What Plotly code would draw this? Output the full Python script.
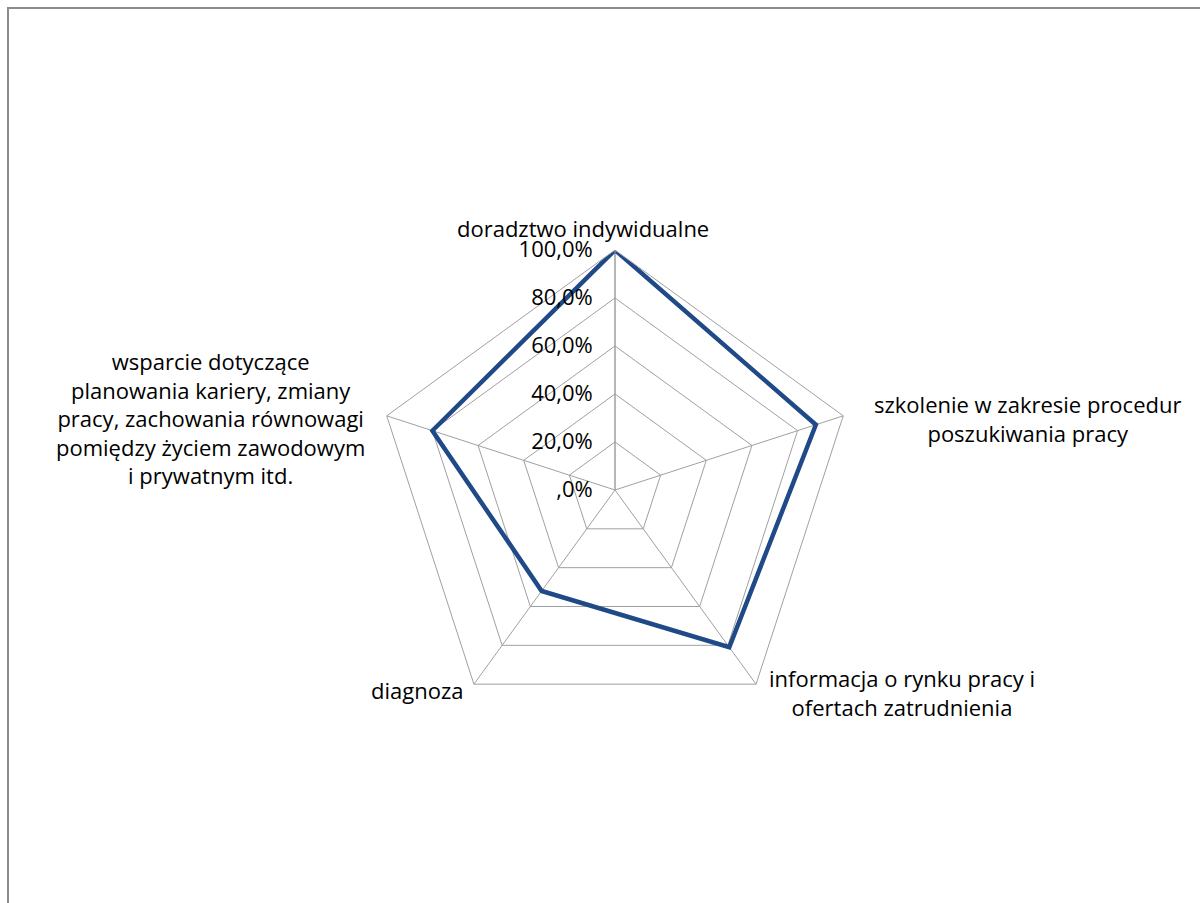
import plotly.graph_objects as go

categories = [
    "doradztwo indywidualne",
    "szkolenie w zakresie procedur<br>poszukiwania pracy",
    "informacja o rynku pracy i<br>ofertach zatrudnienia",
    "diagnoza",
    "wsparcie dotyczące<br>planowania kariery, zmiany<br>pracy, zachowania równowagi<br>pomiędzy życiem zawodowym<br>i prywatnym itd.",
]
values = [100.0, 88.0, 81.0, 52.0, 80.0]
tick_vals = [0, 20, 40, 60, 80, 100]
tick_text = [",0%", "20,0%", "40,0%", "60,0%", "80,0%", "100,0%"]

W, H = 1200, 903
cx, cy_top, R = 615, 490, 240
cy = H - cy_top

FONT = "Open Sans"
FS = 22
TXT = "#000000"

fig = go.Figure()
fig.add_trace(go.Scatterpolar(
    r=values + [values[0]],
    theta=categories + [categories[0]],
    mode="lines",
    line=dict(color="#1F4A87", width=4.5),
    hoverinfo="skip",
    showlegend=False,
))

fig.update_layout(
    width=W, height=H,
    margin=dict(l=0, r=0, t=0, b=0),
    paper_bgcolor="white",
    plot_bgcolor="white",
    font=dict(family=FONT, size=FS, color=TXT),
    polar=dict(
        domain=dict(x=[(cx - R) / W, (cx + R) / W], y=[(cy - R) / H, (cy + R) / H]),
        gridshape="linear",
        bgcolor="white",
        radialaxis=dict(
            range=[0, 100],
            tickvals=tick_vals,
            ticktext=tick_text,
            angle=90,
            tickangle=90,
            side="counterclockwise",
            showline=True,
            linecolor="#A0A0A0",
            linewidth=1,
            gridcolor="#A0A0A0",
            gridwidth=1,
            ticks="outside",
            ticklen=14,
            tickcolor="rgba(0,0,0,0)",
            tickfont=dict(family=FONT, size=FS, color=TXT),
        ),
        angularaxis=dict(
            direction="clockwise",
            rotation=90,
            showticklabels=False,
            ticks="",
            showline=True,
            linecolor="#A0A0A0",
            linewidth=1,
            gridcolor="#A0A0A0",
            gridwidth=1,
        ),
    ),
)

# category labels positioned as in the reference
label_pos = [
    (583, 228, "center"),
    (1027, 418, "center"),
    (902, 692, "center"),
    (465, 690, "right"),
    (210, 418, "center"),
]
for cat, (x, y, al) in zip(categories, label_pos):
    fig.add_annotation(
        x=x / W,
        y=1 - y / H,
        xref="paper", yref="paper",
        text=cat,
        showarrow=False,
        xanchor="center" if al == "center" else "right",
        yanchor="middle",
        align="center",
        font=dict(family=FONT, size=FS, color=TXT),
    )

# chart frame
fig.add_shape(
    type="rect", xref="paper", yref="paper",
    x0=8 / W, x1=1.05, y0=-0.05, y1=1 - 8 / H,
    line=dict(color="#8C8C8C", width=2),
    fillcolor="rgba(0,0,0,0)",
    layer="below",
)

fig.write_html("out.html")
